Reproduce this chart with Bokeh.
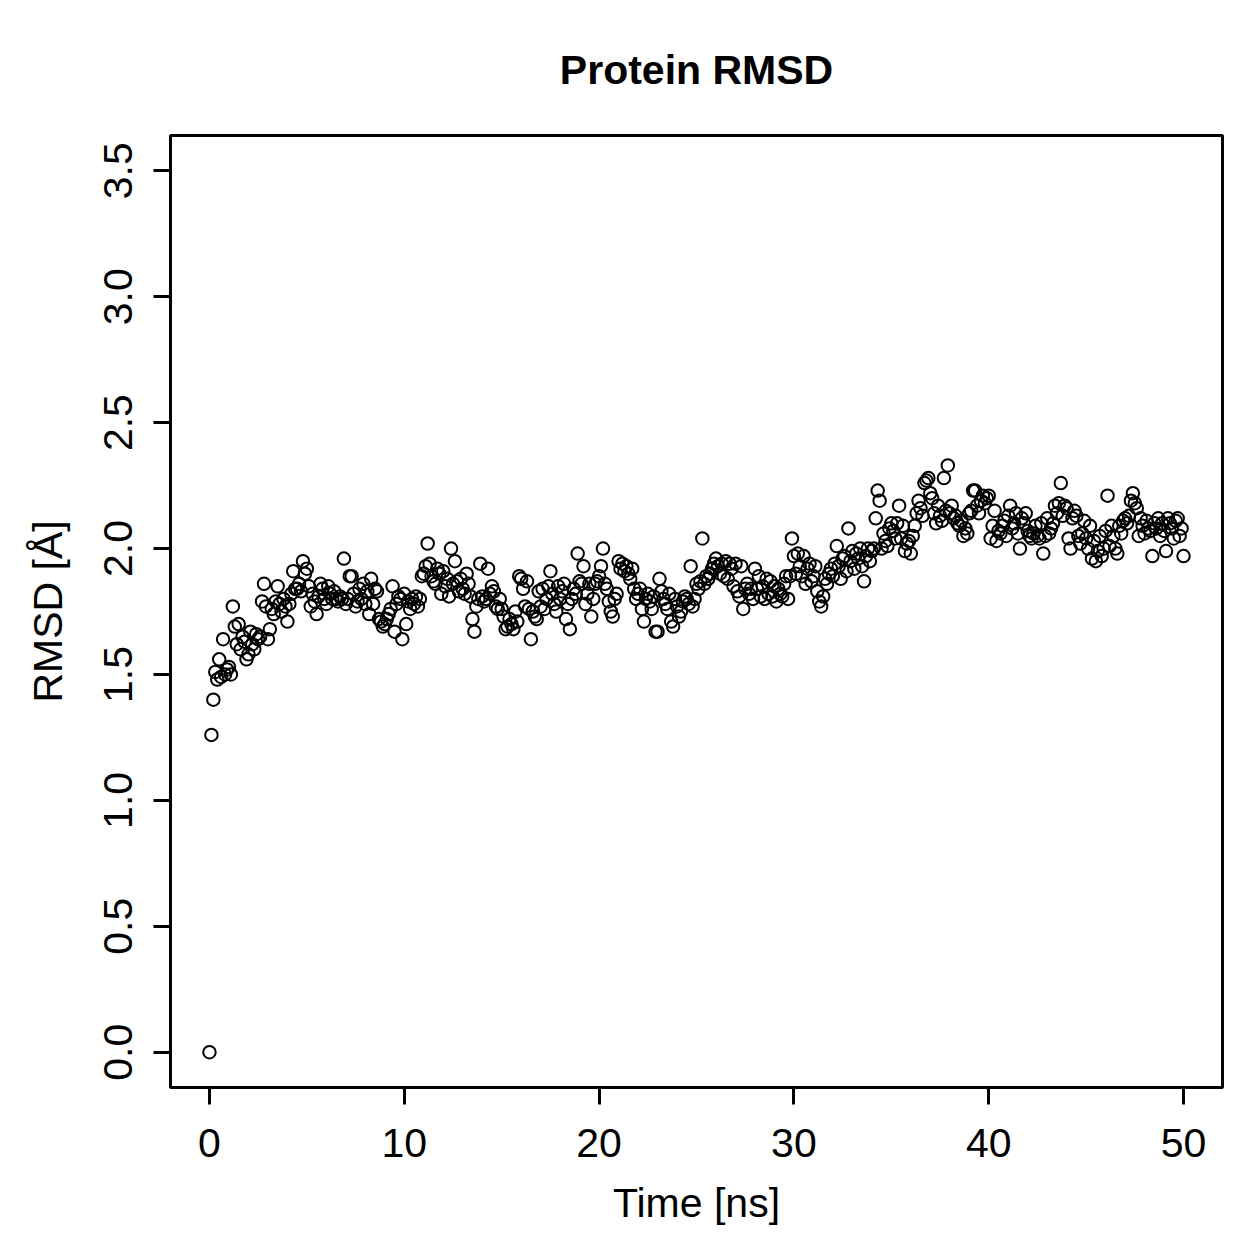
from bokeh.plotting import figure
from bokeh.models import Range1d, FixedTicker, NumeralTickFormatter, ColumnDataSource
from bokeh.embed import file_html
from bokeh.resources import INLINE

# RMSD of the protein backbone over the trajectory, one frame per 0.1 ns
rmsd = (
    [0.00, 1.26, 1.40, 1.51, 1.48, 1.56, 1.49, 1.64, 1.50, 1.52] +   # 0 ns
    [1.53, 1.50, 1.77, 1.69, 1.62, 1.70, 1.60, 1.65, 1.63, 1.56] +   # 1
    [1.58, 1.67, 1.62, 1.60, 1.66, 1.64, 1.65, 1.79, 1.86, 1.77] +   # 2
    [1.64, 1.68, 1.76, 1.74, 1.79, 1.85, 1.78, 1.75, 1.80, 1.77] +   # 3
    [1.71, 1.78, 1.82, 1.91, 1.84, 1.84, 1.86, 1.83, 1.95, 1.90] +   # 4
    [1.92, 1.85, 1.77, 1.82, 1.79, 1.74, 1.81, 1.86, 1.84, 1.80] +   # 5
    [1.78, 1.85, 1.82, 1.80, 1.83, 1.80, 1.79, 1.81, 1.80, 1.96] +   # 6
    [1.78, 1.80, 1.89, 1.89, 1.82, 1.77, 1.79, 1.84, 1.80, 1.86] +   # 7
    [1.78, 1.83, 1.74, 1.88, 1.78, 1.84, 1.83, 1.72, 1.71, 1.69] +   # 8
    [1.70, 1.72, 1.74, 1.76, 1.85, 1.67, 1.78, 1.81, 1.80, 1.64] +   # 9
    [1.82, 1.70, 1.79, 1.76, 1.80, 1.78, 1.81, 1.77, 1.80, 1.89] +   # 10
    [1.90, 1.93, 2.02, 1.94, 1.89, 1.87, 1.86, 1.92, 1.90, 1.82] +   # 11
    [1.91, 1.85, 1.88, 1.81, 2.00, 1.86, 1.95, 1.87, 1.83, 1.88] +   # 12
    [1.84, 1.82, 1.90, 1.86, 1.81, 1.72, 1.67, 1.77, 1.80, 1.94] +   # 13
    [1.81, 1.79, 1.80, 1.92, 1.82, 1.85, 1.83, 1.77, 1.76, 1.80] +   # 14
    [1.76, 1.73, 1.68, 1.69, 1.72, 1.70, 1.68, 1.75, 1.71, 1.89] +   # 15
    [1.88, 1.84, 1.77, 1.87, 1.76, 1.64, 1.75, 1.73, 1.72, 1.83] +   # 16
    [1.77, 1.84, 1.76, 1.80, 1.85, 1.91, 1.82, 1.78, 1.75, 1.85] +   # 17
    [1.80, 1.83, 1.86, 1.72, 1.78, 1.68, 1.80, 1.84, 1.82, 1.98] +   # 18
    [1.87, 1.86, 1.93, 1.78, 1.82, 1.86, 1.73, 1.80, 1.86, 1.87] +   # 19
    [1.89, 1.93, 2.00, 1.86, 1.84, 1.79, 1.75, 1.73, 1.80, 1.82] +   # 20
    [1.95, 1.92, 1.94, 1.91, 1.93, 1.90, 1.88, 1.92, 1.84, 1.80] +   # 21
    [1.82, 1.84, 1.76, 1.71, 1.80, 1.82, 1.79, 1.76, 1.81, 1.67] +   # 22
    [1.67, 1.88, 1.83, 1.80, 1.78, 1.76, 1.82, 1.71, 1.69, 1.80] +   # 23
    [1.77, 1.73, 1.75, 1.79, 1.81, 1.80, 1.78, 1.93, 1.77, 1.80] +   # 24
    [1.86, 1.84, 1.87, 2.04, 1.86, 1.89, 1.88, 1.90, 1.92, 1.94] +   # 25
    [1.96, 1.93, 1.90, 1.94, 1.89, 1.95, 1.88, 1.94, 1.92, 1.85] +   # 26
    [1.94, 1.83, 1.81, 1.93, 1.76, 1.84, 1.86, 1.82, 1.84, 1.80] +   # 27
    [1.92, 1.84, 1.89, 1.81, 1.85, 1.80, 1.88, 1.82, 1.87, 1.81] +   # 28
    [1.85, 1.79, 1.84, 1.82, 1.81, 1.86, 1.89, 1.80, 1.89, 2.04] +   # 29
    [1.97, 1.90, 1.98, 1.93, 1.89, 1.97, 1.86, 1.92, 1.94, 1.87] +   # 30
    [1.89, 1.93, 1.83, 1.79, 1.77, 1.81, 1.88, 1.86, 1.90, 1.92] +   # 31
    [1.89, 1.94, 2.01, 1.93, 1.88, 1.96, 1.97, 1.91, 2.08, 1.95] +   # 32
    [1.99, 1.92, 1.98, 1.96, 2.00, 1.93, 1.87, 1.97, 2.00, 1.95] +   # 33
    [1.99, 2.00, 2.12, 2.23, 2.19, 2.00, 2.06, 2.03, 2.01, 2.08] +   # 34
    [2.10, 2.07, 2.04, 2.10, 2.17, 2.04, 2.09, 1.99, 2.02, 2.03] +   # 35
    [1.98, 2.05, 2.09, 2.14, 2.19, 2.16, 2.13, 2.26, 2.27, 2.28] +   # 36
    [2.22, 2.20, 2.14, 2.10, 2.17, 2.13, 2.11, 2.28, 2.15, 2.33] +   # 37
    [2.14, 2.17, 2.12, 2.13, 2.10, 2.09, 2.11, 2.05, 2.08, 2.06] +   # 38
    [2.14, 2.15, 2.23, 2.23, 2.17, 2.14, 2.19, 2.21, 2.18, 2.20] +   # 39
    [2.21, 2.04, 2.09, 2.15, 2.03, 2.07, 2.06, 2.09, 2.11, 2.05] +   # 40
    [2.13, 2.17, 2.08, 2.10, 2.14, 2.06, 2.00, 2.12, 2.10, 2.14] +   # 41
    [2.07, 2.05, 2.04, 2.06, 2.09, 2.05, 2.04, 2.10, 1.98, 2.05] +   # 42
    [2.12, 2.06, 2.08, 2.10, 2.17, 2.14, 2.18, 2.26, 2.13, 2.17] +   # 43
    [2.16, 2.04, 2.00, 2.12, 2.15, 2.13, 2.05, 2.02, 2.06, 2.11] +   # 44
    [2.04, 2.00, 2.09, 1.96, 2.03, 1.95, 1.99, 2.05, 1.97, 2.00] +   # 45
    [2.07, 2.21, 2.01, 2.09, 2.05, 2.00, 1.98, 2.09, 2.06, 2.11] +   # 46
    [2.12, 2.10, 2.13, 2.19, 2.22, 2.18, 2.16, 2.05, 2.12, 2.09] +   # 47
    [2.06, 2.11, 2.08, 2.07, 1.97, 2.10, 2.08, 2.12, 2.05, 2.10] +   # 48
    [2.07, 1.99, 2.12, 2.10, 2.08, 2.04, 2.11, 2.12, 2.05, 2.08] +   # 49
    [1.97]                                                           # 50
)
time_ns = [round(i * 0.1, 1) for i in range(len(rmsd))]

x_ticks = [0, 10, 20, 30, 40, 50]
y_ticks = [0.0, 0.5, 1.0, 1.5, 2.0, 2.5, 3.0, 3.5]

FONT = "Liberation Sans"
FS = "41px"

p = figure(
    width=1259, height=1259,
    output_backend="svg", toolbar_location=None,
    x_range=Range1d(-2.0, 52.0), y_range=Range1d(-0.14, 3.64),
    min_border_left=170, min_border_right=37,
    min_border_top=135, min_border_bottom=172,
    background_fill_color="white", border_fill_color="white",
)

src = ColumnDataSource(dict(t=time_ns, r=rmsd))
p.scatter("t", "r", source=src, marker="circle", size=12.5,
          fill_color=None, line_color="black", line_width=2.0)

# title
p.title.text = "Protein RMSD"
p.title.align = "center"
p.title.text_font = FONT
p.title.text_font_size = FS
p.title.text_font_style = "bold"
p.title.text_color = "black"
p.title.standoff = 86

p.grid.visible = False
p.outline_line_color = "black"
p.outline_line_width = 3
p.outline_line_alpha = 1.0

for ax in (p.xaxis[0], p.yaxis[0]):
    ax.axis_line_color = "black"
    ax.axis_line_width = 3
    ax.major_tick_line_color = "black"
    ax.major_tick_line_width = 3
    ax.major_tick_out = 17
    ax.major_tick_in = 0
    ax.minor_tick_line_color = None
    ax.major_label_text_font = FONT
    ax.major_label_text_font_size = FS
    ax.major_label_text_color = "black"
    ax.axis_label_text_font = FONT
    ax.axis_label_text_font_size = FS
    ax.axis_label_text_font_style = "normal"
    ax.axis_label_text_color = "black"

p.xaxis.ticker = FixedTicker(ticks=x_ticks)
p.xaxis.axis_label = "Time [ns]"
p.xaxis.major_label_standoff = 24
p.xaxis.axis_label_standoff = 20

p.yaxis.ticker = FixedTicker(ticks=y_ticks)
p.yaxis.formatter = NumeralTickFormatter(format="0.0")
p.yaxis.major_label_orientation = "vertical"
p.yaxis.axis_label = "RMSD [Å]"
p.yaxis.major_label_standoff = 21
p.yaxis.axis_label_standoff = 31

open("out.html", "w").write(file_html(p, INLINE))
